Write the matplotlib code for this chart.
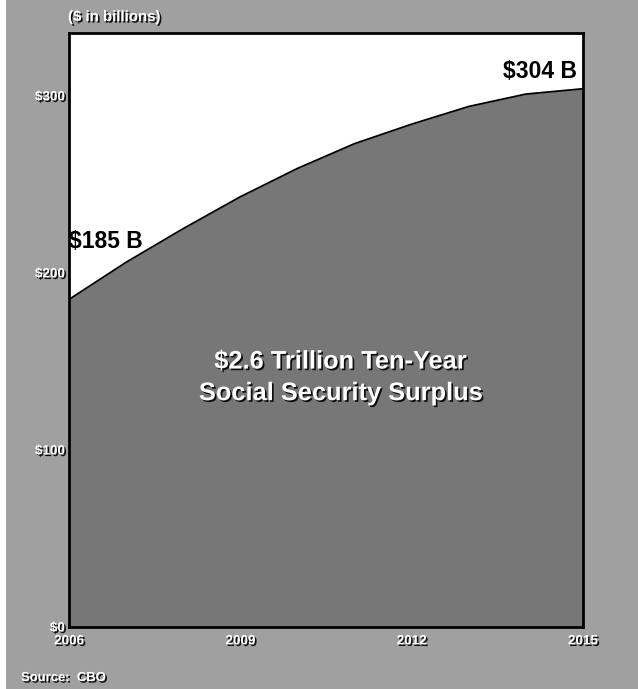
"""
Social Security surplus area chart
"""

import matplotlib
matplotlib.use("Agg")
import matplotlib.pyplot as plt
import matplotlib.patheffects as pe
from matplotlib.patches import Rectangle

years = [2006, 2007, 2008, 2009, 2010, 2011, 2012, 2013, 2014, 2015]
surplus = [185, 206, 225, 243, 259, 273, 284, 294, 301, 304]
y_ticks = [0, 100, 200, 300]
y_labels = ["$0", "$100", "$200", "$300"]
x_ticks = [2006, 2009, 2012, 2015]

BG = "#a0a0a0"
FILL = "#777777"
FONT = "Liberation Sans"

shadow = [pe.withSimplePatchShadow(offset=(1.2, -1.2), shadow_rgbFace="black", alpha=0.9)]

fig = plt.figure(figsize=(6.38, 6.89), dpi=100, facecolor=BG)
fig.patches.append(Rectangle((0, 0), 6 / 638, 1, transform=fig.transFigure,
                             facecolor="white", edgecolor="none"))

ax = fig.add_axes([69 / 638, 62 / 689, 514 / 638, 594 / 689])
ax.set_facecolor("white")
ax.fill_between(years, surplus, 0, color=FILL, linewidth=0)
ax.plot(years, surplus, color="black", linewidth=1.3)

ax.set_xlim(2006, 2015)
ax.set_ylim(0, 335.5)
ax.set_xticks(x_ticks)
ax.set_yticks(y_ticks)
ax.set_xticklabels([str(y) for y in x_ticks])
ax.set_yticklabels(y_labels)
ax.tick_params(axis="y", length=0, pad=3)
ax.tick_params(axis="x", length=0, pad=6)
for lbl in ax.get_xticklabels() + ax.get_yticklabels():
    lbl.set_fontfamily(FONT)
    lbl.set_fontweight("bold")
    lbl.set_fontsize(9.7)
    lbl.set_color("white")
    lbl.set_path_effects(shadow)

for s in ax.spines.values():
    s.set_linewidth(2)
    s.set_color("black")

ax.text(2006.0, 218, "$185 B", fontfamily=FONT, fontweight="bold", fontsize=16.5,
        ha="left", va="center", color="black")
ax.text(2014.9, 313.5, "$304 B", fontfamily=FONT, fontweight="bold", fontsize=16.5,
        ha="right", va="center", color="black")
ax.text(2010.75, 141, "$2.6 Trillion Ten-Year\nSocial Security Surplus",
        fontfamily=FONT, fontweight="bold", fontsize=18.3, ha="center", va="center",
        color="white", linespacing=1.4, path_effects=shadow)

fig.text(68 / 638, 1 - 17 / 689, "($ in billions)", fontfamily=FONT, fontweight="bold",
         fontsize=10.8, color="white", ha="left", va="center", path_effects=shadow)
fig.text(21 / 638, 1 - 678 / 689, "Source:  CBO", fontfamily=FONT, fontweight="bold",
         fontsize=9.4, color="white", ha="left", va="center", path_effects=shadow)

fig.savefig("out.png", dpi=100, facecolor=BG)
